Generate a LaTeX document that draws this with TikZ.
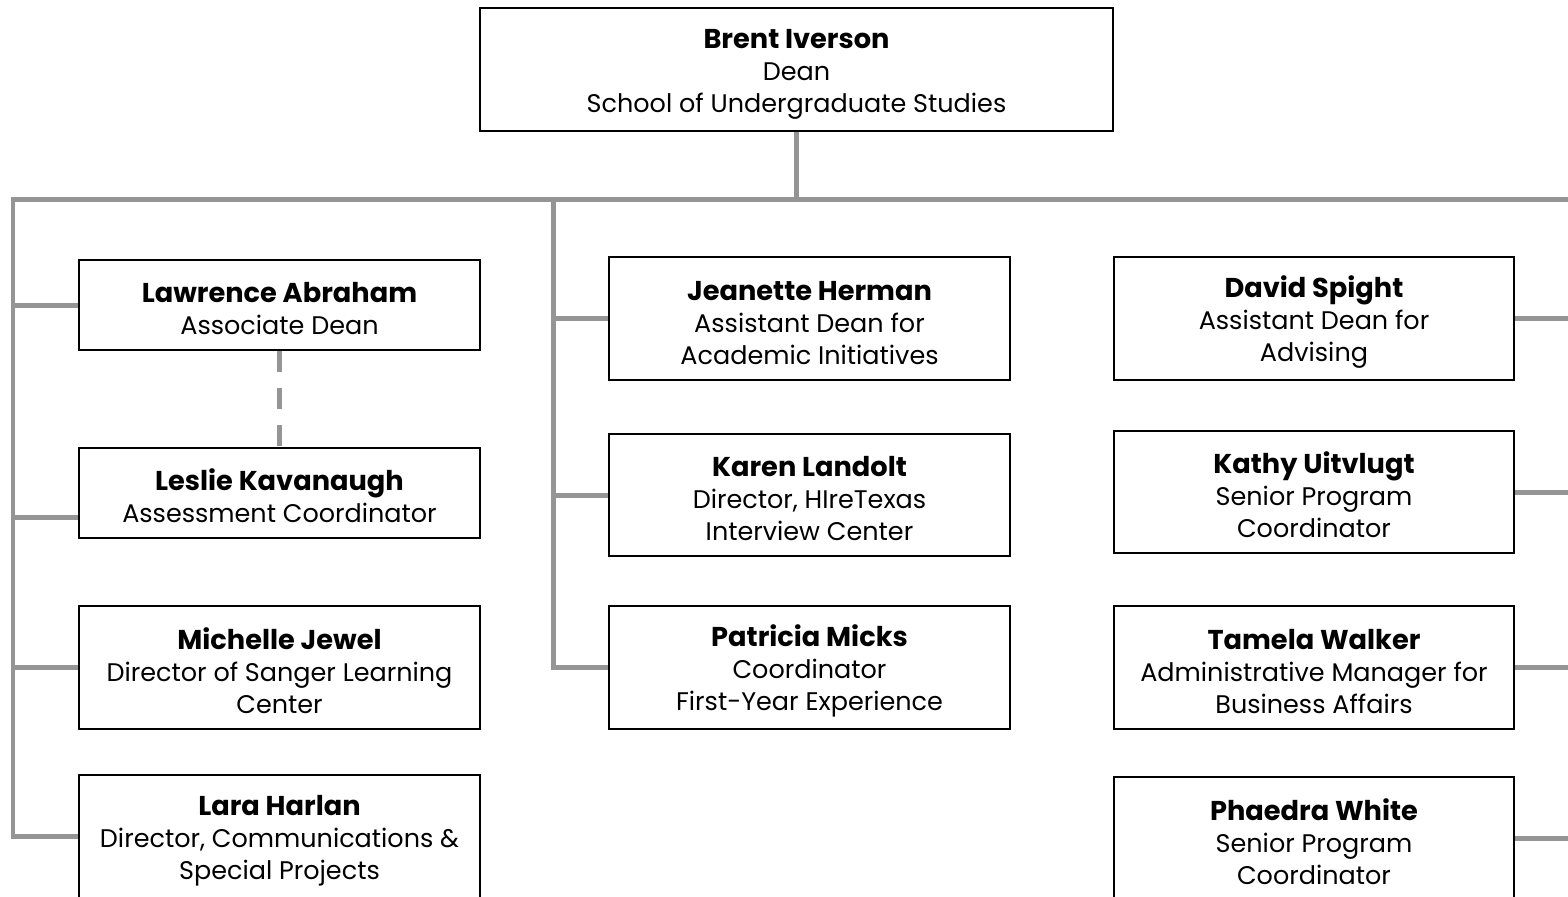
\documentclass[tikz,border=0pt]{standalone}
\usepackage{fontspec}
\setmainfont{Poppins}
\usetikzlibrary{positioning,backgrounds}
\definecolor{linkgray}{HTML}{959595}
\newcommand{\who}[1]{{\fontsize{15.5}{18.2}\selectfont\rule{0pt}{16pt}\textbf{#1}}}

\begin{document}
\begin{tikzpicture}[x=0.02cm, y=-0.02cm,
    box/.style={draw=black, line width=0.04cm, fill=white, align=center,
      minimum width=8.02cm, minimum height=2.46cm, inner sep=0pt,
      font=\fontsize{14.5}{18.2}\selectfont},
    smallbox/.style={box, minimum height=1.8cm},
    link/.style={draw=linkgray, line width=0.1cm},
    dashlink/.style={link, dash pattern=on 0.42cm off 0.32cm}]
  \clip (0,0) rectangle (1568,896);
  % dean
  \node[box, minimum width=12.66cm] (Dean) at (796.5,69.5)
    {\who{Brent Iverson}\\Dean\\School of Undergraduate Studies};
  % left column
  \node[smallbox] (Lawrence) at (279.5,305) {\who{Lawrence Abraham}\\Associate Dean};
  \node[smallbox] (Leslie) at (279.5,492.5) {\who{Leslie Kavanaugh}\\Assessment Coordinator};
  \node[box] (Michelle) at (279.5,667.5) {\who{Michelle Jewel}\\Director of Sanger Learning\\Center};
  \node[box] (Lara) at (279.5,836.5) {\who{Lara Harlan}\\Director, Communications \&\\Special Projects};
  % middle column
  \node[box] (Jeanette) at (809.5,318.5) {\who{Jeanette Herman}\\Assistant Dean for\\Academic Initiatives};
  \node[box] (Karen) at (809.5,495) {\who{Karen Landolt}\\Director, HIreTexas\\Interview Center};
  \node[box] (Patricia) at (809.5,667.5) {\who{Patricia Micks}\\Coordinator\\First-Year Experience};
  % right column
  \node[box] (David) at (1314,318.5) {\who{David Spight}\\Assistant Dean for\\Advising};
  \node[box] (Kathy) at (1314,492) {\who{Kathy Uitvlugt}\\Senior Program\\Coordinator};
  \node[box] (Tamela) at (1314,667.5) {\who{Tamela Walker}\\Administrative Manager for\\Business Affairs};
  \node[box] (Phaedra) at (1314,838.5) {\who{Phaedra White}\\Senior Program\\Coordinator};

  \coordinate (busL) at (13,199);
  \coordinate (busM) at (553,199);
  \coordinate (busR) at (1600,199);
  \coordinate (LeslieIn) at ([yshift=-0.49cm]Leslie.west);

  \begin{scope}[on background layer]
    \draw[link] (Dean.south) -- (Dean.south |- busL);
    \draw[link] (busR) -- (busL) |- (Lara.west);
    \draw[link] (busL |- Lawrence.west) -- (Lawrence.west);
    \draw[link] (busL |- LeslieIn) -- (LeslieIn);
    \draw[link] (busL |- Michelle.west) -- (Michelle.west);
    \draw[link] (busM) |- (Patricia.west);
    \draw[link] (busM |- Jeanette.west) -- (Jeanette.west);
    \draw[link] (busM |- Karen.west) -- (Karen.west);
    \draw[link] (busR) |- (Phaedra.east);
    \draw[link] (David.east) -- (David.east -| busR);
    \draw[link] (Kathy.east) -- (Kathy.east -| busR);
    \draw[link] (Tamela.east) -- (Tamela.east -| busR);
    \draw[dashlink] (Lawrence.south) -- (Leslie.north);
  \end{scope}
\end{tikzpicture}
\end{document}
